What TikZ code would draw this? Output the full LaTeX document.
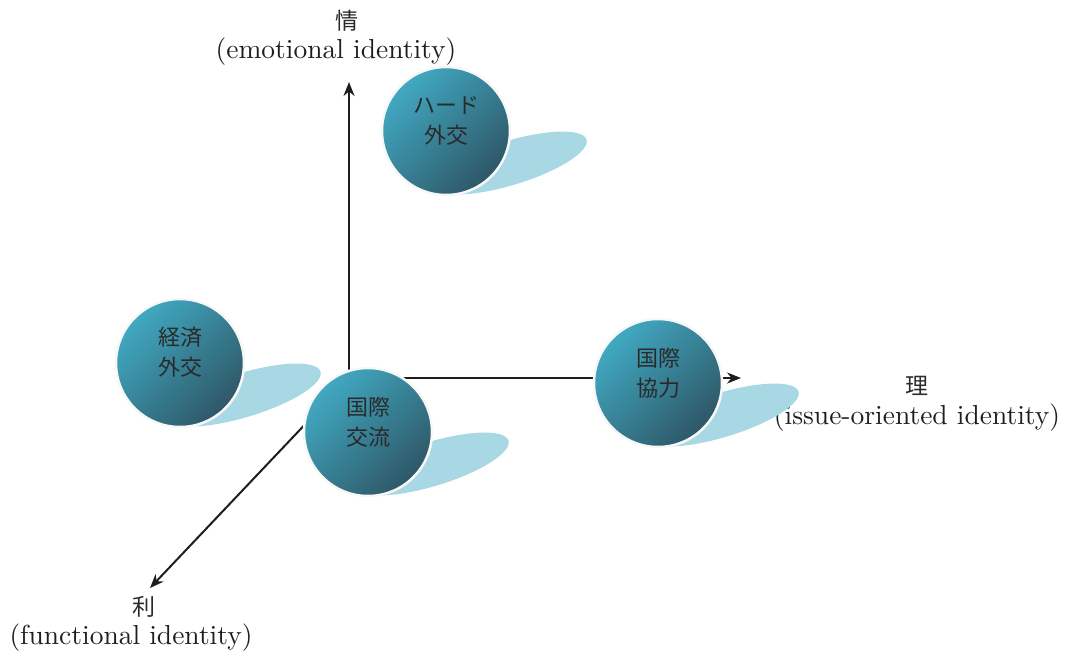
\documentclass[tikz,border=0pt]{standalone}
\usepackage{fontspec}
\newfontfamily\jpfont{Noto Sans CJK JP}
\newfontfamily\enfont{lmroman10-regular}[Extension=.otf]
\usetikzlibrary{arrows.meta,shapes.geometric}

\definecolor{shadowblue}{HTML}{A8D8E3}
\definecolor{ballhi}{HTML}{41A9C2}
\definecolor{ballmid}{HTML}{3A8DA2}
\definecolor{balllo}{HTML}{2E5767}
\definecolor{axisink}{HTML}{1E1E1E}
\definecolor{inktext}{HTML}{2A2A2A}

\tikzset{
  axisline/.style={draw=axisink, line width=2pt, -{Stealth[length=14pt,width=11pt]}},
  ball/.style={circle, minimum size=128pt, inner sep=0pt,
    draw=white!94!gray, line width=2.5pt,
    top color=ballhi, middle color=ballmid, bottom color=balllo, shading angle=45},
  balltext/.style={align=center, text=inktext, font=\jpfont\fontsize{22}{30}\selectfont},
  ballshadow/.style={ellipse, fill=shadowblue, inner sep=0pt,
    minimum width=160pt, minimum height=44pt, rotate=17},
  axisjp/.style={text=inktext, font=\jpfont\fontsize{23}{26}\selectfont, inner sep=0pt},
  axisen/.style={text=axisink, font=\enfont\fontsize{27.5}{32}\selectfont, inner sep=0pt}
}

\begin{document}
\begin{tikzpicture}[x=1pt, y=-1pt]
  \useasboundingbox (0,0) rectangle (1072,659);

  % three axes from a common origin
  \coordinate (O) at (349,378);
  \coordinate (upEnd) at (349,82);
  \coordinate (rightEnd) at (741,378);
  \coordinate (diagEnd) at (150,588);
  \draw[axisline] (O) -- (upEnd);
  \draw[axisline] (O) -- (rightEnd);
  \draw[axisline] (O) -- (diagEnd);

  % axis captions
  \node[axisjp] (jo) at (347,21) {情};
  \node[axisen] (joen) at (336,52) {(emotional identity)};
  \node[axisjp] (ri) at (917,386) {理};
  \node[axisen] (rien) at (917,418) {(issue-oriented identity)};
  \node[axisjp] (ri2) at (144,607) {利};
  \node[axisen] (ri2en) at (131,638) {(functional identity)};

  % soft shadows cast to the lower right
  \node[ballshadow] (hdS) at (510,163) {};
  \node[ballshadow] (kzS) at (244,395) {};
  \node[ballshadow] (krS) at (432,464) {};
  \node[ballshadow] (kkS) at (722,415) {};

  % spheres
  \node[ball] (hd) at (446,131) {};
  \node[ball] (kz) at (180,363) {};
  \node[ball] (kr) at (368,432) {};
  \node[ball] (kk) at (658,383) {};

  \node[balltext] (hdT) at (446,121) {ハード\\外交};
  \node[balltext] (kzT) at (180,352) {経済\\外交};
  \node[balltext] (krT) at (368,422) {国際\\交流};
  \node[balltext] (kkT) at (658,373) {国際\\協力};
\end{tikzpicture}
\end{document}
